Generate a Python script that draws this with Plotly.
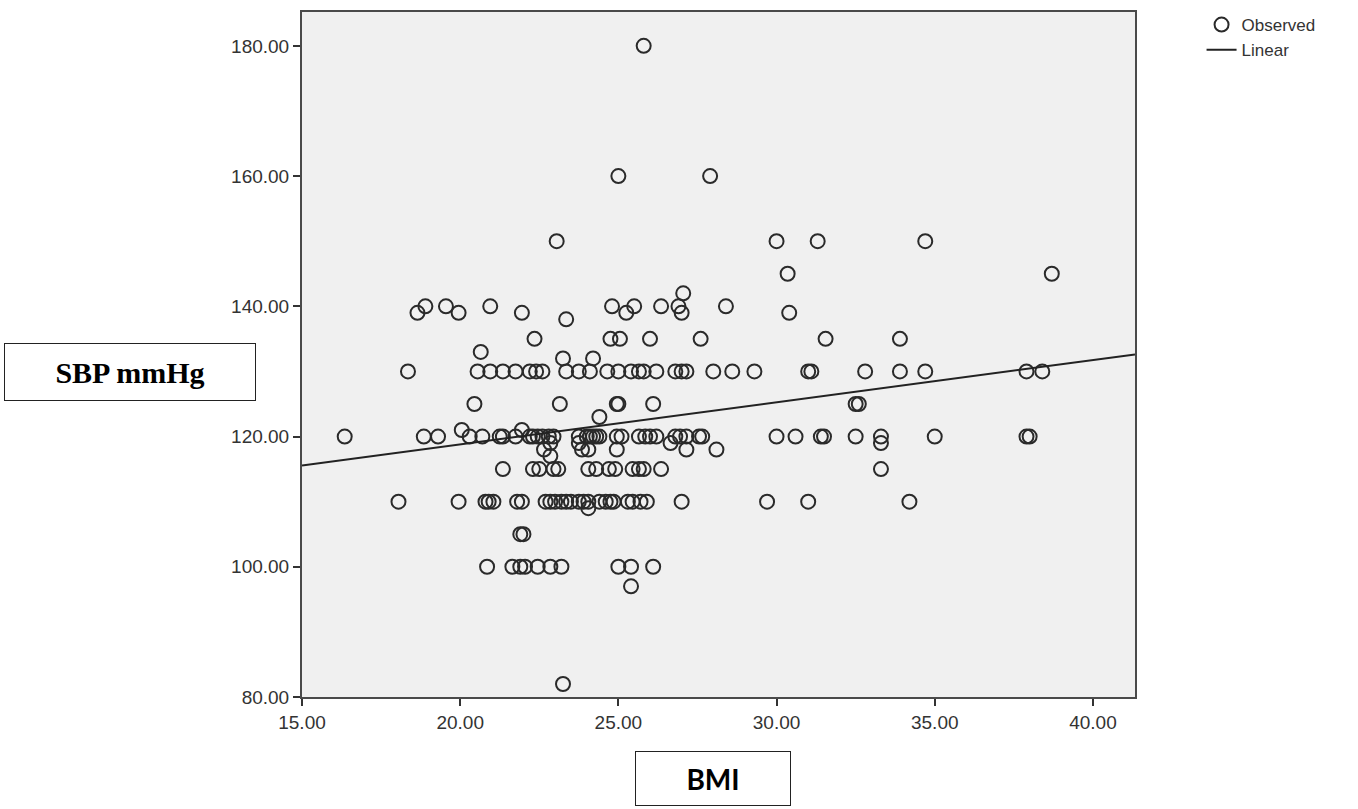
import plotly.graph_objects as go

# ---- data ----
sbp_levels = [180, 160, 150, 145, 142, 140, 139, 138, 135, 133, 132, 130, 125, 123, 121,
              120, 119, 118, 117, 115, 110, 109, 105, 100, 97, 82]
bmi_by_level = [
    [25.8],
    [25.0, 27.9],
    [23.05, 30.0, 31.3, 34.7],
    [30.35, 38.7],
    [27.05],
    [18.9, 19.55, 20.95, 24.8, 25.5, 26.35, 26.9, 28.4],
    [18.65, 19.95, 21.95, 25.25, 27.0, 30.4],
    [23.35],
    [22.35, 24.75, 25.05, 26.0, 27.6, 31.55, 33.9],
    [20.65],
    [23.25, 24.2],
    [18.35, 20.55, 20.95, 21.35, 21.75, 22.2, 22.4, 22.6, 23.35, 23.75, 24.1, 24.65, 25.0,
     25.4, 25.65, 25.8, 26.2, 26.8, 27.0, 27.15, 28.0, 28.6, 29.3, 31.0, 31.1, 32.8, 33.9,
     34.7, 37.9, 38.4],
    [20.45, 23.15, 24.95, 25.0, 26.1, 32.5, 32.6],
    [24.4],
    [20.05, 21.95],
    [16.35, 18.85, 19.3, 20.3, 20.7, 21.25, 21.35, 21.75, 22.2, 22.3, 22.45, 22.6, 22.8, 22.95,
     23.75, 24.0, 24.1, 24.2, 24.3, 24.4, 24.95, 25.1, 25.65, 25.85, 26.0, 26.2, 26.8, 26.95,
     27.15, 27.55, 27.65, 30.0, 30.6, 31.4, 31.5, 32.5, 33.3, 35.0, 37.9, 38.0],
    [22.85, 23.75, 26.65, 33.3],
    [22.65, 23.85, 24.05, 24.95, 27.15, 28.1],
    [22.85],
    [21.35, 22.3, 22.5, 22.95, 23.1, 24.05, 24.3, 24.7, 24.9, 25.45, 25.65, 25.8, 26.35, 33.3],
    [18.05, 19.95, 20.8, 20.9, 21.05, 21.8, 21.95, 22.7, 22.85, 23.0, 23.2, 23.35, 23.5, 23.75,
     23.9, 24.05, 24.4, 24.6, 24.75, 24.85, 25.3, 25.45, 25.7, 25.9, 27.0, 29.7, 31.0, 34.2],
    [24.05],
    [21.9, 22.0],
    [20.85, 21.65, 21.9, 22.05, 22.45, 22.85, 23.2, 25.0, 25.4, 26.1],
    [25.4],
    [23.25],
]
fit_intercept = 105.82
fit_slope = 0.648
x_range = [15.0, 41.33]
y_range = [80.0, 185.2]
x_ticks = [15, 20, 25, 30, 35, 40]
y_ticks = [80, 100, 120, 140, 160, 180]

bmi = [b for lvl, row in zip(sbp_levels, bmi_by_level) for b in row]
sbp = [lvl for lvl, row in zip(sbp_levels, bmi_by_level) for b in row]

line_x = x_range
line_y = [fit_intercept + fit_slope * v for v in line_x]

fig = go.Figure()
fig.add_trace(go.Scatter(
    x=bmi, y=sbp, mode="markers", name="Observed",
    marker=dict(symbol="circle-open", size=14, color="#2a2a2a", line=dict(width=2)),
))
fig.add_trace(go.Scatter(
    x=line_x, y=line_y, mode="lines", name="Linear",
    line=dict(color="#222222", width=2),
))

axis_common = dict(
    showgrid=False, zeroline=False, showline=True, mirror=True,
    linecolor="#4a4a4a", linewidth=2, ticks="outside", ticklen=7, tickwidth=1.5,
    tickcolor="#333333", tickfont=dict(family="Liberation Sans", size=19, color="#333333"),
)
fig.update_xaxes(range=x_range, tickvals=x_ticks,
                 ticktext=[f"{v:.2f}" for v in x_ticks], **axis_common)
fig.update_yaxes(range=y_range, tickvals=y_ticks,
                 ticktext=[f"{v:.2f}" for v in y_ticks], **axis_common)

fig.update_layout(
    width=1358, height=809,
    margin=dict(l=302, r=223, t=10, b=112),
    plot_bgcolor="#f0f0f0", paper_bgcolor="white",
    showlegend=True,
    legend=dict(xref="container", yref="container", x=0.8848, y=0.9913,
                xanchor="left", yanchor="top",
                font=dict(family="Liberation Sans", size=17, color="#333333"),
                bgcolor="rgba(0,0,0,0)", tracegroupgap=0, itemwidth=30),
    annotations=[
        dict(text="<b>SBP mmHg</b>", xref="paper", yref="paper", x=-0.2059, y=0.4745,
             xanchor="center", yanchor="middle", showarrow=False,
             font=dict(family="Liberation Serif", size=30, color="black"),
             bordercolor="#222222", borderwidth=1, width=248, height=54, bgcolor="white"),
        dict(text="<b>BMI</b>", xref="paper", yref="paper", x=0.4928, y=-0.1194,
             xanchor="center", yanchor="middle", showarrow=False,
             font=dict(family="Liberation Sans Narrow, Lato", size=28, color="black"),
             bordercolor="#222222", borderwidth=1, width=152, height=51, bgcolor="white"),
    ],
)

fig.write_html("out.html", config={"displayModeBar": False},
               post_script="document.body.style.margin='0';")
